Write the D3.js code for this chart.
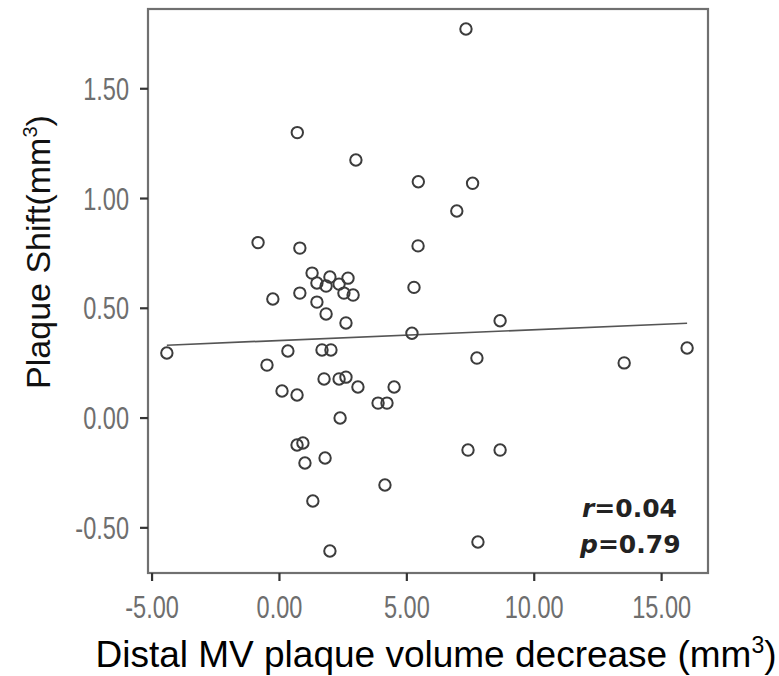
<!DOCTYPE html>
<html>
<head>
<meta charset="utf-8">
<script src="https://cdn.jsdelivr.net/npm/d3@7"></script>
<style>
  body { margin: 0; background: #fff; }
  svg { display: block; }
</style>
</head>
<body>
<div id="chart"></div>
<script>
// values (x = distal MV plaque volume decrease, y = plaque shift)
var xValues = [7.34, 0.72, 3.02, 5.47, 7.60, 6.98, 5.46, 5.30, 5.22, 8.68,
  -0.82, 0.82, -0.24, 0.82, 1.30, 1.49, 2.00, 1.85, 2.36, 2.71,
  2.55, 2.91, 1.49, 1.85, 2.63, -4.40, 0.35, -0.47, 1.69, 2.04,
  0.12, 0.71, 1.77, 2.36, 2.63, 3.10, 3.89, 4.24, 4.52, 2.40,
  0.71, 0.94, 1.02, 1.81, 1.33, 4.16, 2.00, 7.77, 13.55, 16.02,
  7.42, 8.68, 7.81]
var yValues = [1.770, 1.298, 1.173, 1.074, 1.067, 0.941, 0.782, 0.593, 0.384, 0.441,
  0.797, 0.772, 0.540, 0.567, 0.658, 0.613, 0.640, 0.599, 0.608, 0.635,
  0.567, 0.558, 0.526, 0.472, 0.431, 0.294, 0.303, 0.239, 0.308, 0.308,
  0.121, 0.103, 0.176, 0.176, 0.184, 0.139, 0.066, 0.066, 0.139, -0.002,
  -0.125, -0.116, -0.207, -0.184, -0.380, -0.307, -0.608, 0.271, 0.249, 0.317,
  -0.148, -0.148, -0.567]
var xTicks = [-5, 0, 5, 10, 15]
var yTicks = [-0.5, 0, 0.5, 1.0, 1.5]
var fitIntercept = 0.351
var fitSlope = 0.0049
var statLines = [['r', '=0.04'], ['p', '=0.79']]

var margin = {top: 9, right: 71, bottom: 103, left: 148}
var width = 779 - margin.left - margin.right
var height = 676 - margin.top - margin.bottom

var xPositionScale = d3.scaleLinear().domain([-5.14, 16.84]).range([0, width])
var yPositionScale = d3.scaleLinear().domain([-0.708, 1.861]).range([height, 0])

var svg = d3.select('#chart')
  .append('svg')
  .attr('width', 779)
  .attr('height', 676)
  .append('g')
  .attr('transform', 'translate(' + margin.left + ',' + margin.top + ')')

var points = xValues.map(function(d, i) { return {x: d, y: yValues[i]} })

// frame
svg.append('rect')
  .attr('width', width)
  .attr('height', height)
  .attr('fill', 'none')
  .attr('stroke', '#707070')
  .attr('stroke-width', 2.2)

// regression line over the data range
var xExtent = d3.extent(xValues)
svg.append('line')
  .attr('x1', xPositionScale(xExtent[0]))
  .attr('y1', yPositionScale(fitIntercept + fitSlope * xExtent[0]))
  .attr('x2', xPositionScale(xExtent[1]))
  .attr('y2', yPositionScale(fitIntercept + fitSlope * xExtent[1]))
  .attr('stroke', '#555')
  .attr('stroke-width', 1.7)

svg.append('g')
  .selectAll('.dot')
  .data(points)
  .enter().append('circle')
  .attr('class', 'dot')
  .attr('cx', d => xPositionScale(d.x))
  .attr('cy', d => yPositionScale(d.y))
  .attr('r', 5.7)
  .attr('fill', 'none')
  .attr('stroke', '#3c3c3c')
  .attr('stroke-width', 2)

// tick labels: plain hyphen, squeezed a bit like the narrow font in the picture
var tickFont = '"Liberation Sans", Arial, sans-serif'
var fmt = d => d3.format('.2f')(d).replace('\u2212', '-')
var squeeze = 0.76

var xAxis = d3.axisBottom(xPositionScale).tickValues(xTicks).tickSize(8).tickFormat(fmt)
var xg = svg.append('g')
  .attr('class', 'axis axis-x')
  .attr('transform', 'translate(0,' + height + ')')
  .call(xAxis)
xg.select('.domain').remove()
xg.selectAll('line').attr('stroke', '#333').attr('stroke-width', 2.2)
xg.selectAll('text')
  .attr('y', 45).attr('dy', 0)
  .attr('transform', 'scale(' + squeeze + ',1)')
  .attr('fill', '#6e6e6e')
  .style('font-family', tickFont)
  .style('font-size', '31px')

var yAxis = d3.axisLeft(yPositionScale).tickValues(yTicks).tickSize(8).tickPadding(11).tickFormat(fmt)
var yg = svg.append('g')
  .attr('class', 'axis axis-y')
  .call(yAxis)
yg.select('.domain').remove()
yg.selectAll('line').attr('stroke', '#333').attr('stroke-width', 2.2)
yg.selectAll('text')
  .attr('x', -19 / squeeze)
  .attr('dy', '0.36em')
  .attr('transform', 'scale(' + squeeze + ',1)')
  .attr('fill', '#6e6e6e')
  .style('font-family', tickFont)
  .style('font-size', '31px')

// axis titles
var titleFont = '"Liberation Sans", Arial, sans-serif'
var xt = svg.append('text')
  .attr('x', 436 - margin.left)
  .attr('y', 667 - margin.top)
  .attr('text-anchor', 'middle')
  .style('font-family', titleFont)
  .style('font-size', '37px')
  .attr('fill', '#000')
xt.append('tspan').text('Distal MV plaque volume decrease (mm')
xt.append('tspan').attr('dy', -14).style('font-size', '23px').text('3')
xt.append('tspan').attr('dy', 14).text(')')

var yt = svg.append('text')
  .attr('transform', 'translate(' + (50 - margin.left) + ',' + (252 - margin.top) + ') rotate(-90)')
  .attr('text-anchor', 'middle')
  .style('font-family', titleFont)
  .style('font-size', '34px')
  .attr('fill', '#111')
yt.append('tspan').text('Plaque Shift(mm')
yt.append('tspan').attr('dy', -13).style('font-size', '20px').text('3')
yt.append('tspan').attr('dy', 13).text(')')

// r and p annotation
var stat = svg.append('g')
  .style('font-family', '"DejaVu Sans", Verdana, sans-serif')
  .style('font-size', '25px')
  .style('font-weight', 'bold')
  .attr('fill', '#222')
stat.selectAll('text')
  .data(statLines)
  .enter().append('text')
  .attr('x', (d, i) => 582 - margin.left - i * 2)
  .attr('y', (d, i) => 517 - margin.top + i * 36)
  .each(function(d) {
    var t = d3.select(this)
    t.append('tspan').style('font-style', 'italic').text(d[0])
    t.append('tspan').text(d[1])
  })
</script>
</body>
</html>
